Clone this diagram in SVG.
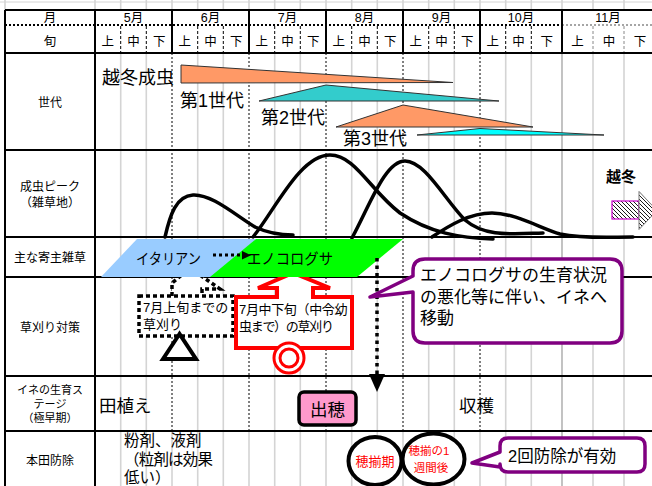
<svg xmlns="http://www.w3.org/2000/svg" width="652" height="486" viewBox="0 0 652 486">
<style>
text{font-family:"Liberation Sans","Noto Sans CJK JP","Noto Sans CJK SC",sans-serif;fill:#000}
.lbl{font-size:12px;text-anchor:middle}
.lbs{font-size:11px;text-anchor:middle}
.hd{font-size:12.5px;text-anchor:middle}
.grid{stroke:#d4d4d4;stroke-width:1.6}
.mdot{stroke:#000;stroke-width:1;stroke-dasharray:2 2}
.ddash{stroke:#000;stroke-width:1;stroke-dasharray:3 2}
.rule{stroke:#000;stroke-width:2}
.curve{fill:none;stroke:#000;stroke-width:3.5;stroke-linecap:round}
.gen{stroke:#333;stroke-width:1}
.red{fill:#ff0000;text-anchor:middle}
.callout{fill:#fff;stroke:#800080;stroke-width:3.5;stroke-linejoin:round}
</style>
<defs>
<pattern id="hatch" patternUnits="userSpaceOnUse" width="4" height="4">
<rect width="4" height="4" fill="#fff"/>
<path d="M-1,-1 L5,5 M-1,3 L1,5 M3,-1 L5,1" stroke="#000" stroke-width="0.9"/>
</pattern>
</defs>
<rect width="652" height="486" fill="#fff"/>

<g id="grid">
<line x1="0" y1="2" x2="652" y2="2" stroke="#d4d4d4" stroke-width="1"/>
<g class="grid">
<line x1="120.7" y1="0" x2="120.7" y2="10"/><line x1="146.3" y1="0" x2="146.3" y2="10"/>
<line x1="172" y1="0" x2="172" y2="10"/><line x1="197.7" y1="0" x2="197.7" y2="10"/><line x1="223.3" y1="0" x2="223.3" y2="10"/>
<line x1="249" y1="0" x2="249" y2="10"/><line x1="274.7" y1="0" x2="274.7" y2="10"/><line x1="300.3" y1="0" x2="300.3" y2="10"/>
<line x1="326" y1="0" x2="326" y2="10"/><line x1="351.7" y1="0" x2="351.7" y2="10"/><line x1="377.3" y1="0" x2="377.3" y2="10"/>
<line x1="403" y1="0" x2="403" y2="10"/><line x1="428.7" y1="0" x2="428.7" y2="10"/><line x1="454.3" y1="0" x2="454.3" y2="10"/>
<line x1="480" y1="0" x2="480" y2="10"/><line x1="505.7" y1="0" x2="505.7" y2="10"/><line x1="531.3" y1="0" x2="531.3" y2="10"/>
<line x1="562" y1="0" x2="562" y2="10"/><line x1="593" y1="0" x2="593" y2="10"/><line x1="624" y1="0" x2="624" y2="10"/>
<line x1="95" y1="0" x2="95" y2="10"/><line x1="5" y1="0" x2="5" y2="10"/>
<line x1="120.7" y1="53" x2="120.7" y2="486"/><line x1="146.3" y1="53" x2="146.3" y2="486"/>
<line x1="197.7" y1="53" x2="197.7" y2="486"/><line x1="223.3" y1="53" x2="223.3" y2="486"/>
<line x1="274.7" y1="53" x2="274.7" y2="486"/><line x1="300.3" y1="53" x2="300.3" y2="486"/>
<line x1="351.7" y1="53" x2="351.7" y2="486"/><line x1="377.3" y1="53" x2="377.3" y2="486"/>
<line x1="428.7" y1="53" x2="428.7" y2="486"/><line x1="454.3" y1="53" x2="454.3" y2="486"/>
<line x1="505.7" y1="53" x2="505.7" y2="486"/><line x1="531.3" y1="53" x2="531.3" y2="486"/>
<line x1="593" y1="53" x2="593" y2="486"/><line x1="624" y1="53" x2="624" y2="486"/>
<line x1="172" y1="431" x2="172" y2="486"/><line x1="249" y1="431" x2="249" y2="486"/>
<line x1="326" y1="431" x2="326" y2="486"/><line x1="403" y1="431" x2="403" y2="486"/>
<line x1="480" y1="431" x2="480" y2="486"/>
</g>
<line x1="562" y1="53" x2="562" y2="486" stroke="#9a9a9a" stroke-width="1.2"/>
<g class="mdot">
<line x1="172" y1="53" x2="172" y2="431"/><line x1="249" y1="53" x2="249" y2="431"/>
<line x1="326" y1="53" x2="326" y2="431"/><line x1="403" y1="53" x2="403" y2="431"/>
<line x1="480" y1="53" x2="480" y2="431"/>
</g>
<g class="ddash">
<line x1="120.7" y1="26" x2="120.7" y2="53"/><line x1="146.3" y1="26" x2="146.3" y2="53"/>
<line x1="197.7" y1="26" x2="197.7" y2="53"/><line x1="223.3" y1="26" x2="223.3" y2="53"/>
<line x1="274.7" y1="26" x2="274.7" y2="53"/><line x1="300.3" y1="26" x2="300.3" y2="53"/>
<line x1="351.7" y1="26" x2="351.7" y2="53"/><line x1="377.3" y1="26" x2="377.3" y2="53"/>
<line x1="428.7" y1="26" x2="428.7" y2="53"/><line x1="454.3" y1="26" x2="454.3" y2="53"/>
<line x1="505.7" y1="26" x2="505.7" y2="53"/><line x1="531.3" y1="26" x2="531.3" y2="53"/>
</g>
<line x1="593" y1="26" x2="593" y2="53" stroke="#888" stroke-width="1" stroke-dasharray="3 2"/>
<line x1="624" y1="26" x2="624" y2="53" stroke="#888" stroke-width="1" stroke-dasharray="3 2"/>
<line x1="5" y1="25" x2="562" y2="25" stroke="#000" stroke-width="2" stroke-dasharray="2 2"/>
<line x1="562" y1="25" x2="652" y2="25" stroke="#888" stroke-width="1.5" stroke-dasharray="2 2"/>
<g class="rule">
<line x1="5" y1="10" x2="652" y2="10"/>
<line x1="5" y1="53" x2="652" y2="53"/>
<line x1="5" y1="150" x2="652" y2="150"/>
<line x1="5" y1="237" x2="652" y2="237"/>
<line x1="5" y1="277" x2="652" y2="277"/>
<line x1="5" y1="376" x2="652" y2="376"/>
<line x1="5" y1="431" x2="652" y2="431"/>
<line x1="5" y1="10" x2="5" y2="486"/>
<line x1="95" y1="10" x2="95" y2="486"/>
<line x1="172" y1="10" x2="172" y2="53"/><line x1="249" y1="10" x2="249" y2="53"/>
<line x1="326" y1="10" x2="326" y2="53"/><line x1="403" y1="10" x2="403" y2="53"/>
<line x1="480" y1="10" x2="480" y2="53"/><line x1="562" y1="10" x2="562" y2="53"/>
</g>
</g>

<g id="header">
<text class="hd" x="50" y="22">月</text>
<text class="hd" x="133.5" y="22">5月</text>
<text class="hd" x="210.5" y="22">6月</text>
<text class="hd" x="287.5" y="22">7月</text>
<text class="hd" x="364.5" y="22">8月</text>
<text class="hd" x="441.5" y="22">9月</text>
<text class="hd" x="521" y="22">10月</text>
<text class="hd" x="608" y="22">11月</text>
<text class="hd" x="50" y="46">旬</text>
<text class="hd" x="107.8" y="46">上</text><text class="hd" x="133.5" y="46">中</text><text class="hd" x="159.2" y="46">下</text>
<text class="hd" x="184.8" y="46">上</text><text class="hd" x="210.5" y="46">中</text><text class="hd" x="236.2" y="46">下</text>
<text class="hd" x="261.8" y="46">上</text><text class="hd" x="287.5" y="46">中</text><text class="hd" x="313.2" y="46">下</text>
<text class="hd" x="338.8" y="46">上</text><text class="hd" x="364.5" y="46">中</text><text class="hd" x="390.2" y="46">下</text>
<text class="hd" x="415.8" y="46">上</text><text class="hd" x="441.5" y="46">中</text><text class="hd" x="467.2" y="46">下</text>
<text class="hd" x="492.8" y="46">上</text><text class="hd" x="518.5" y="46">中</text><text class="hd" x="546.7" y="46">下</text>
<text class="hd" x="577.5" y="46">上</text><text class="hd" x="609" y="46">中</text><text class="hd" x="640" y="46">下</text>
</g>

<g id="row-labels">
<text class="lbl" x="50" y="107">世代</text>
<text class="lbl"><tspan x="50" y="191">成虫ピーク</tspan><tspan x="50" y="207">（雑草地）</tspan></text>
<text class="lbl" x="50" y="262">主な寄主雑草</text>
<text class="lbl" x="50" y="332">草刈り対策</text>
<text class="lbs"><tspan x="50" y="394">イネの生育ス</tspan><tspan x="50" y="408">テージ</tspan><tspan x="50" y="422">（極早期）</tspan></text>
<text class="lbl" x="50" y="465">本田防除</text>
</g>

<g id="generations">
<polygon class="gen" points="181,65 453,82.5 181,83" fill="#ff9966"/>
<polygon class="gen" points="259,101 326,85 499,101" fill="#33cccc"/>
<polygon class="gen" points="336,127 403,105 533,127" fill="#ff9966"/>
<polygon class="gen" points="417,135 480,128.5 604,135" fill="#00ffff"/>
<text x="102" y="84" font-size="18">越冬成虫</text>
<text x="180" y="107" font-size="18">第1世代</text>
<text x="261" y="124" font-size="18">第2世代</text>
<text x="343" y="145" font-size="18">第3世代</text>
</g>

<g id="peaks">
<path class="curve" d="M165,237 C170,215 176,196 193,195 C212,194 235,215 255,227 C270,234 282,235 293,235"/>
<path class="curve" d="M253,237 C275,210 300,155 330,155 C355,155 370,190 400,213 C430,233 460,238 493,239"/>
<path class="curve" d="M352,238 C370,205 385,161 405,161 C425,161 445,200 465,220 C485,237 510,234 543,233"/>
<path class="curve" d="M432,237 C450,225 470,213 492,213 C515,213 540,228 560,234 C585,239 610,237 633,237"/>
</g>

<g id="overwinter">
<text x="606" y="182" font-size="15" font-weight="bold">越冬</text>
<rect x="612" y="201" width="27" height="18" fill="url(#hatch)" stroke="#cc00cc" stroke-width="1.2"/>
<polygon points="639,191.5 639,229.5 657,210.5" fill="url(#hatch)" stroke="#777" stroke-width="1"/>
</g>

<g id="cut-early">
<path d="M172,296 V283 L190,268 L220,289 H202 V296" fill="#fff" stroke="#000" stroke-width="3.5" stroke-dasharray="4 3"/>
<rect x="139" y="296" width="94" height="40" fill="#fff" stroke="#000" stroke-width="3.5" stroke-dasharray="4 3"/>
<text font-size="13"><tspan x="143" y="312">7月上旬までの</tspan><tspan x="143" y="329">草刈り</tspan></text>
<polygon points="179.5,334 163,359 196,359" fill="#fff" stroke="#000" stroke-width="4" stroke-linejoin="miter"/>
</g>

<g id="cut-mid">
<path d="M236,297 H277 V288 H258 L293,273 L330,288 H313 V297 H352 V348 H236 Z" fill="#fff" stroke="#ff0000" stroke-width="4"/>
<text font-size="13"><tspan x="239" y="314" letter-spacing="-0.35">7月中下旬（中令幼</tspan><tspan x="239" y="331" letter-spacing="-1.3">虫まで）の草刈り</tspan></text>
<circle cx="289" cy="358" r="15" fill="#fff" stroke="#ff0000" stroke-width="3"/>
<circle cx="289" cy="358" r="9" fill="#fff" stroke="#ff0000" stroke-width="3"/>
</g>

<g id="weeds">
<polygon points="101,277 137,239 256,239 220,277" fill="#99ccff"/>
<polygon points="256,239 403,239 357,277 210,277" fill="#00ff00"/>
<text x="136" y="264" font-size="15" textLength="65" lengthAdjust="spacingAndGlyphs">イタリアン</text>
<text x="247" y="264" font-size="15" textLength="86" lengthAdjust="spacingAndGlyphs">エノコログサ</text>
</g>

<g id="connectors">
<line x1="213" y1="255" x2="242" y2="255" stroke="#000" stroke-width="3" stroke-dasharray="3 3"/>
<polygon points="242,251 242,259.5 251,255.2" fill="#000"/>
<line x1="377" y1="258" x2="377" y2="374" stroke="#000" stroke-width="3.5" stroke-dasharray="3.5 4"/>
<polygon points="369,374 385,374 377,392" fill="#000"/>
</g>

<g id="callout-move">
<path class="callout" d="M425,259 H610 Q622,259 622,271 V331 Q622,343 610,343 H425 Q413,343 413,331 V292 L370,297 L413,276 V271 Q413,259 425,259 Z"/>
<text font-size="17"><tspan x="420" y="281">エノコログサの生育状況</tspan><tspan x="420" y="303">の悪化等に伴い、イネへ</tspan><tspan x="420" y="324">移動</tspan></text>
</g>

<g id="rice">
<text x="99" y="412" font-size="17.5">田植え</text>
<rect x="299" y="392" width="57" height="33" rx="5" fill="#ff99cc" stroke="#000" stroke-width="3.5"/>
<text x="327.5" y="416" font-size="17.5" text-anchor="middle">出穂</text>
<text x="459" y="412" font-size="17.5">収穫</text>
</g>

<g id="control">
<text font-size="15.5"><tspan x="124" y="446">粉剤、液剤</tspan><tspan x="124" y="465" letter-spacing="-0.8">（粒剤は効果</tspan><tspan x="124" y="483">低い）</tspan></text>
<ellipse cx="375" cy="461" rx="26.5" ry="24" fill="#fff" stroke="#000" stroke-width="4"/>
<ellipse cx="433.5" cy="459" rx="31" ry="25.5" fill="#fff" stroke="#000" stroke-width="4"/>
<text class="red" x="375" y="466" font-size="13">穂揃期</text>
<text class="red" font-size="11.5"><tspan x="429" y="455">穂揃の1</tspan><tspan x="431" y="472">週間後</tspan></text>
<path class="callout" d="M508,438 H637 Q645,438 645,446 V464 Q645,472 637,472 H508 Q500,472 500,464 V467 L472,463 L500,452 V446 Q500,438 508,438 Z"/>
<text x="508" y="462" font-size="16.5">2回防除が有効</text>
</g>
</svg>
